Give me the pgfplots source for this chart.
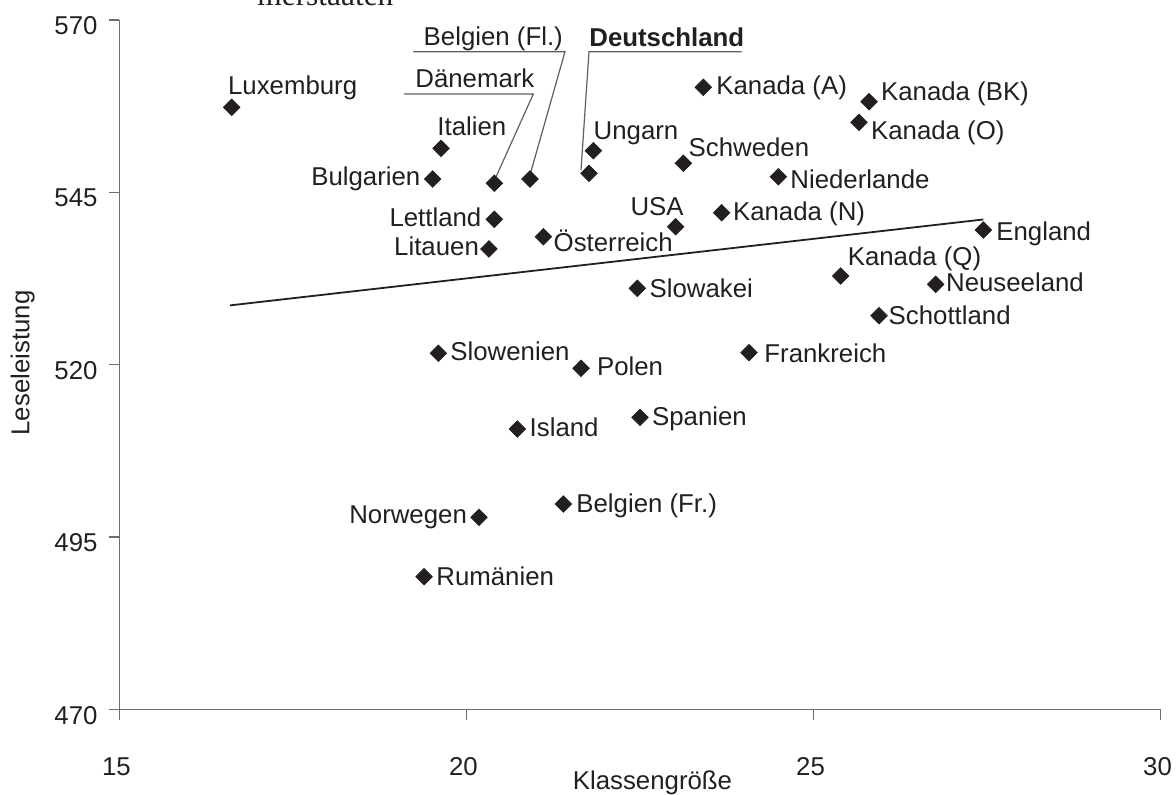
\documentclass[border=0pt]{standalone}
\usepackage{fontspec}
\setmainfont{Liberation Sans}
\newfontfamily\titlefont{Liberation Serif}
\usepackage{pgfplots}
\usepackage{pgfplotstable}
\pgfplotsset{compat=1.18}
\definecolor{ink}{RGB}{35,31,32}
\definecolor{axisgray}{RGB}{110,110,110}
\definecolor{leadgray}{RGB}{95,95,95}
\newcommand\labfont{\fontsize{12.9}{15}\selectfont}

% labels to the right of the marker (anchor base west); dx, dy in pt
\pgfplotstableread{
x y dx dy label
16.617 557.34 -2 6.5 Luxemburg
19.633 551.39 -2 6.65 Italien
21.827 551.04 0 5.7 Ungarn
23.124 549.22 2.5 3.3 Schweden
23.412 560.24 6.35 -3.85 {Kanada (A)}
23.677 542.05 5.5 -4 {Kanada (N)}
21.107 538.57 5 -7.5 Österreich
25.800 558.15 5.85 0.85 {Kanada (BK)}
25.656 555.16 5.85 -8.5 {Kanada (O)}
24.493 547.27 5.85 -5.8 Niederlande
27.447 539.54 6.35 -5 England
25.392 532.87 3.35 5.5 {Kanada (Q)}
26.761 531.67 5 -3.7 Neuseeland
22.461 531.09 6 -4.5 Slowakei
19.594 521.66 5.85 -3.7 Slowenien
21.650 519.49 7.85 -3.85 Polen
24.071 521.75 7.5 -5 Frankreich
25.944 527.11 4.65 -4.15 Schottland
22.500 512.38 5.85 -4.35 Spanien
20.732 510.68 6 -3.5 Island
21.395 499.80 6.35 -4.35 {Belgien (Fr.)}
19.388 489.26 6 -4.15 Rumänien
20.401 546.32 0 0 {}
20.915 546.94 0 0 {}
21.765 547.77 0 0 {}
}\rightlab

% labels to the left of the marker (anchor base east)
\pgfplotstableread{
x y dx dy label
19.513 546.94 -6 -3 Bulgarien
20.401 541.09 -6.3 -3.7 Lettland
20.324 536.79 -4.85 -3.5 Litauen
23.014 540.02 4.15 5.85 USA
20.180 497.88 -5.85 -3.35 Norwegen
}\leftlab

\begin{document}
\begin{tikzpicture}
\begin{axis}[
  at={(0,0)}, anchor=south west,
  scale only axis, width=520.5pt, height=344.75pt,
  xmin=15, xmax=30, ymin=470, ymax=570,
  xtick={15,20,25,30}, ytick={470,495,520,545,570},
  axis x line*=bottom, axis y line*=left,
  axis line style={axisgray, line width=0.7pt, -},
  tick style={axisgray, line width=0.7pt},
  tick align=outside, major tick length=5.3pt,
  minor tick num=0,
  /pgf/number format/assume math mode=true,
  ticklabel style={font=\labfont, text=ink, inner sep=0pt},
  yticklabel style={anchor=base east, xshift=-5.5pt, yshift=-7.25pt},
  xticklabel style={anchor=base, yshift=-27.75pt, xshift=-1.5pt},
  xlabel={Klassengröße}, ylabel={Leseleistung},
  every axis x label/.style={at={(axis description cs:0.512,-0.116)}, anchor=base, inner sep=0pt, font=\labfont, text=ink},
  every axis y label/.style={at={(axis description cs:-0.0866,0.5026)}, rotate=90, anchor=base, inner sep=0pt, font=\labfont, text=ink},
  clip=false,
]
\addplot[ink, line width=0.9pt, no marks] coordinates {(16.592,528.61) (27.447,541.07)};

\addplot[leadgray, line width=0.6pt, no marks] coordinates {(19.233,565.40) (21.419,565.40) (20.915,547.52)};
\addplot[leadgray, line width=0.6pt, no marks] coordinates {(23.965,565.40) (21.765,565.40) (21.650,548.24)};
\addplot[leadgray, line width=0.6pt, no marks] coordinates {(19.099,559.27) (20.963,559.27) (20.416,547.04)};

\addplot[only marks, mark=square*, mark size=2.9pt,
  mark options={rotate=45, fill=ink, draw=ink},
  point meta=explicit symbolic, nodes near coords,
  visualization depends on={\thisrow{dx} \as \labdx},
  visualization depends on={\thisrow{dy} \as \labdy},
  every node near coord/.append style={anchor=base west, xshift=\labdx pt, yshift=\labdy pt, inner sep=0pt, font=\labfont, text=ink}]
  table[x=x, y=y, meta=label] {\rightlab};

\addplot[only marks, mark=square*, mark size=2.9pt,
  mark options={rotate=45, fill=ink, draw=ink},
  point meta=explicit symbolic, nodes near coords,
  visualization depends on={\thisrow{dx} \as \labdx},
  visualization depends on={\thisrow{dy} \as \labdy},
  every node near coord/.append style={anchor=base east, xshift=\labdx pt, yshift=\labdy pt, inner sep=0pt, font=\labfont, text=ink}]
  table[x=x, y=y, meta=label] {\leftlab};

\node[anchor=base west, inner sep=0pt, font=\labfont, text=ink] at (axis cs:19.378,566.37) {Belgien (Fl.)};
\node[anchor=base west, inner sep=0pt, font=\labfont\bfseries, text=ink] at (axis cs:21.765,566.13) {Deutschland};
\node[anchor=base west, inner sep=0pt, font=\labfont, text=ink] at (axis cs:19.258,560.24) {Dänemark};
\end{axis}
\node[anchor=base west, inner sep=0pt, font=\titlefont\fontsize{15.7}{18}\selectfont, text=ink] at (68.75pt,351.75pt) {merstaaten};
\pgfresetboundingbox
\path[use as bounding box] (-59.75pt,-42.25pt) rectangle (528.25pt,354.75pt);
\end{tikzpicture}
\end{document}
